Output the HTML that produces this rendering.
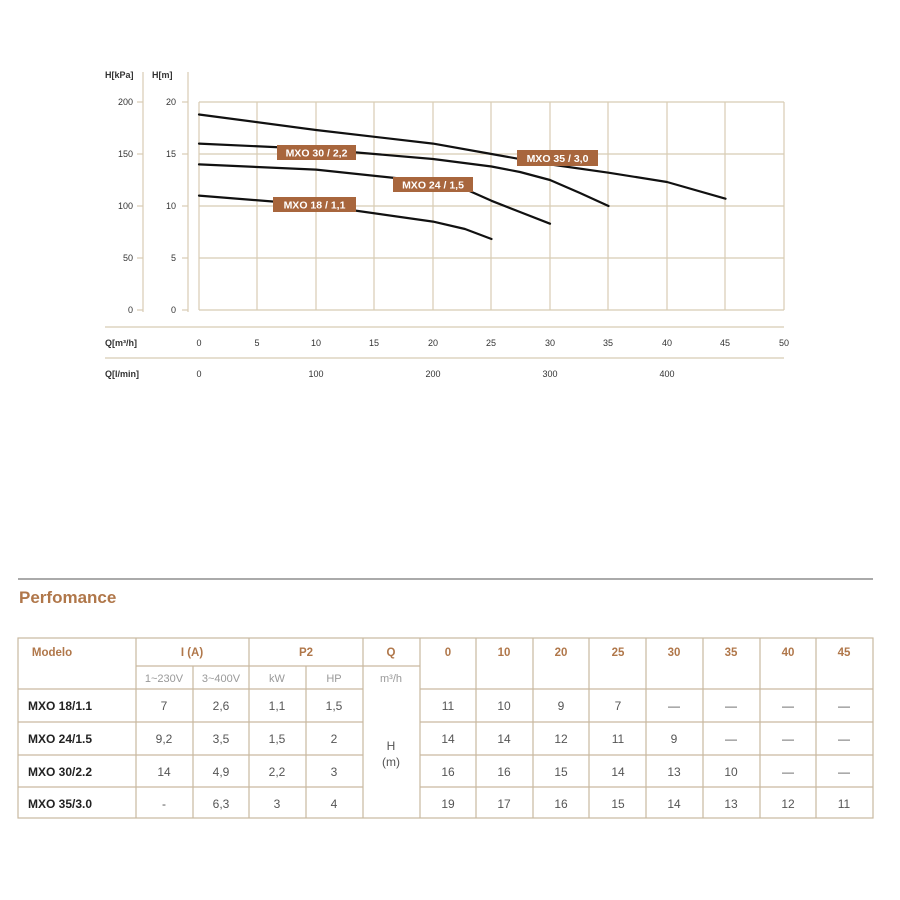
<!DOCTYPE html>
<html><head><meta charset="utf-8"><style>
html,body{margin:0;padding:0;background:#fff;width:900px;height:900px;overflow:hidden}
svg{display:block;font-family:"Liberation Sans",Arial,sans-serif}
</style></head><body>
<svg width="900" height="900" viewBox="0 0 900 900" xmlns="http://www.w3.org/2000/svg">
<!-- grid -->
<g stroke="#d8ccb4" stroke-width="1.2" fill="none">
<line x1="199" y1="102" x2="784" y2="102"/><line x1="199" y1="154" x2="784" y2="154"/>
<line x1="199" y1="206" x2="784" y2="206"/><line x1="199" y1="258" x2="784" y2="258"/>
<line x1="199" y1="310" x2="784" y2="310"/>
<line x1="199" y1="102" x2="199" y2="310"/><line x1="257" y1="102" x2="257" y2="310"/>
<line x1="316" y1="102" x2="316" y2="310"/><line x1="374" y1="102" x2="374" y2="310"/>
<line x1="433" y1="102" x2="433" y2="310"/><line x1="491" y1="102" x2="491" y2="310"/>
<line x1="550" y1="102" x2="550" y2="310"/><line x1="608" y1="102" x2="608" y2="310"/>
<line x1="667" y1="102" x2="667" y2="310"/><line x1="725" y1="102" x2="725" y2="310"/>
<line x1="784" y1="102" x2="784" y2="310"/>
<!-- left axes -->
<line x1="143" y1="72" x2="143" y2="312"/><line x1="188" y1="72" x2="188" y2="312"/>
<line x1="137" y1="102" x2="143" y2="102"/><line x1="137" y1="154" x2="143" y2="154"/><line x1="137" y1="206" x2="143" y2="206"/><line x1="137" y1="258" x2="143" y2="258"/><line x1="137" y1="310" x2="143" y2="310"/>
<line x1="182" y1="102" x2="188" y2="102"/><line x1="182" y1="154" x2="188" y2="154"/><line x1="182" y1="206" x2="188" y2="206"/><line x1="182" y1="258" x2="188" y2="258"/><line x1="182" y1="310" x2="188" y2="310"/>
<line x1="105" y1="327" x2="784" y2="327"/><line x1="105" y1="358" x2="784" y2="358"/>
</g>
<g font-size="9" fill="#333" text-anchor="end">
<text x="133" y="105">200</text><text x="133" y="157">150</text><text x="133" y="209">100</text><text x="133" y="261">50</text><text x="133" y="313">0</text>
<text x="176" y="105">20</text><text x="176" y="157">15</text><text x="176" y="209">10</text><text x="176" y="261">5</text><text x="176" y="313">0</text>
</g>
<g font-size="9" font-weight="bold" fill="#333">
<text x="105" y="78">H[kPa]</text><text x="152" y="78">H[m]</text>
<text x="105" y="346">Q[m³/h]</text><text x="105" y="377">Q[l/min]</text>
</g>
<g font-size="9" fill="#333" text-anchor="middle">
<text x="199" y="346">0</text><text x="257" y="346">5</text><text x="316" y="346">10</text><text x="374" y="346">15</text><text x="433" y="346">20</text><text x="491" y="346">25</text><text x="550" y="346">30</text><text x="608" y="346">35</text><text x="667" y="346">40</text><text x="725" y="346">45</text><text x="784" y="346">50</text>
<text x="199" y="377">0</text><text x="316" y="377">100</text><text x="433" y="377">200</text><text x="550" y="377">300</text><text x="667" y="377">400</text>
</g>
<!-- curves -->
<g stroke="#111" stroke-width="2.2" fill="none" stroke-linejoin="round" stroke-linecap="round">
<polyline points="199,114.5 316,130 433,143.6 491.5,154 550,164.4 608.5,172.7 667,182 725.5,198.7"/>
<polyline points="199,143.6 316,149 433,159 491.5,166.5 520,172 550,180 580,193 608.5,206"/>
<polyline points="199,164.4 316,169.6 433,182 465,189 491.5,200.8 520,212 550,223.7"/>
<polyline points="199,195.6 316,205 433,221.6 465,229 491.5,239"/>
</g>
<g fill="#a8663d"><rect x="277" y="145" width="79" height="15"/><rect x="393" y="177" width="80" height="15"/><rect x="273" y="197" width="83" height="15"/><rect x="517" y="150" width="81" height="16"/></g>
<g font-size="10.5" font-weight="bold" fill="#fff" text-anchor="middle">
<text x="316.5" y="156.5">MXO 30 / 2,2</text><text x="433" y="188.5">MXO 24 / 1,5</text><text x="314.5" y="208.5">MXO 18 / 1,1</text><text x="557.5" y="162">MXO 35 / 3,0</text>
</g>
<!-- performance -->
<line x1="18" y1="579" x2="873" y2="579" stroke="#555" stroke-width="1"/>
<text x="19" y="603" font-size="17" font-weight="bold" fill="#b0774a">Perfomance</text>
<g stroke="#c9b9a0" stroke-width="1.2" fill="none">
<rect x="18" y="638" width="855" height="180"/>
<line x1="136" y1="666" x2="420" y2="666"/>
<line x1="18" y1="689" x2="363" y2="689"/><line x1="420" y1="689" x2="873" y2="689"/>
<line x1="18" y1="722" x2="363" y2="722"/><line x1="420" y1="722" x2="873" y2="722"/>
<line x1="18" y1="755" x2="363" y2="755"/><line x1="420" y1="755" x2="873" y2="755"/>
<line x1="18" y1="787" x2="363" y2="787"/><line x1="420" y1="787" x2="873" y2="787"/>
<line x1="136" y1="638" x2="136" y2="818"/><line x1="193" y1="666" x2="193" y2="818"/>
<line x1="249" y1="638" x2="249" y2="818"/><line x1="306" y1="666" x2="306" y2="818"/>
<line x1="363" y1="638" x2="363" y2="818"/><line x1="420" y1="638" x2="420" y2="818"/>
<line x1="476" y1="638" x2="476" y2="818"/><line x1="533" y1="638" x2="533" y2="818"/>
<line x1="589" y1="638" x2="589" y2="818"/><line x1="646" y1="638" x2="646" y2="818"/>
<line x1="703" y1="638" x2="703" y2="818"/><line x1="760" y1="638" x2="760" y2="818"/>
<line x1="816" y1="638" x2="816" y2="818"/>
</g>
<g font-size="11.5" font-weight="bold" fill="#b0774a" text-anchor="middle">
<text x="52" y="656">Modelo</text><text x="192" y="656">I (A)</text><text x="306" y="656">P2</text><text x="391" y="656">Q</text>
<text x="448" y="656">0</text><text x="504" y="656">10</text><text x="561" y="656">20</text><text x="618" y="656">25</text><text x="674" y="656">30</text><text x="731" y="656">35</text><text x="788" y="656">40</text><text x="844" y="656">45</text>
</g>
<g font-size="11" fill="#999" text-anchor="middle">
<text x="164" y="682">1~230V</text><text x="221" y="682">3~400V</text><text x="277" y="682">kW</text><text x="334" y="682">HP</text><text x="391" y="682">m³/h</text>
</g>
<g font-size="12" font-weight="bold" fill="#222">
<text x="28" y="710">MXO 18/1.1</text><text x="28" y="743">MXO 24/1.5</text><text x="28" y="776">MXO 30/2.2</text><text x="28" y="808">MXO 35/3.0</text>
</g>
<g font-size="12" fill="#555" text-anchor="middle">
<text x="164" y="710">7</text><text x="221" y="710">2,6</text><text x="277" y="710">1,1</text><text x="334" y="710">1,5</text>
<text x="164" y="743">9,2</text><text x="221" y="743">3,5</text><text x="277" y="743">1,5</text><text x="334" y="743">2</text>
<text x="164" y="776">14</text><text x="221" y="776">4,9</text><text x="277" y="776">2,2</text><text x="334" y="776">3</text>
<text x="164" y="808">-</text><text x="221" y="808">6,3</text><text x="277" y="808">3</text><text x="334" y="808">4</text>
<text x="391" y="750">H</text><text x="391" y="766">(m)</text>
<text x="448" y="710">11</text><text x="504" y="710">10</text><text x="561" y="710">9</text><text x="618" y="710">7</text><text x="674" y="710">—</text><text x="731" y="710">—</text><text x="788" y="710">—</text><text x="844" y="710">—</text>
<text x="448" y="743">14</text><text x="504" y="743">14</text><text x="561" y="743">12</text><text x="618" y="743">11</text><text x="674" y="743">9</text><text x="731" y="743">—</text><text x="788" y="743">—</text><text x="844" y="743">—</text>
<text x="448" y="776">16</text><text x="504" y="776">16</text><text x="561" y="776">15</text><text x="618" y="776">14</text><text x="674" y="776">13</text><text x="731" y="776">10</text><text x="788" y="776">—</text><text x="844" y="776">—</text>
<text x="448" y="808">19</text><text x="504" y="808">17</text><text x="561" y="808">16</text><text x="618" y="808">15</text><text x="674" y="808">14</text><text x="731" y="808">13</text><text x="788" y="808">12</text><text x="844" y="808">11</text>
</g>
</svg>
</body></html>
